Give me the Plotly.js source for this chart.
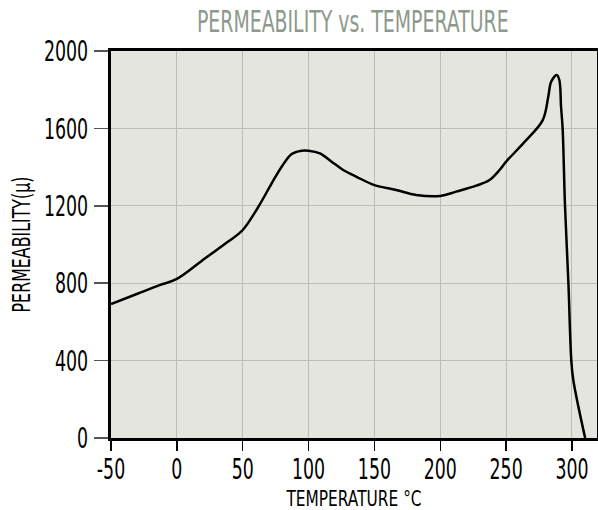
<!DOCTYPE html>
<html>
<head>
<meta charset="utf-8">
<script src="https://cdn.plot.ly/plotly-3.0.1.min.js"></script>
<style>
html,body{margin:0;padding:0;background:#fff;}
#chart{width:598px;height:510px;}
</style>
</head>
<body>
<div id="chart"></div>
<script>
const temperature = [-50, -29, -12.6, 0, 21.5, 39, 50, 61.9, 72, 79.6, 87.2, 94.8, 100, 108.6, 117.5, 126.3, 136.4, 150, 166.5, 181.7, 200, 212, 227.3, 237.4, 245, 250, 264, 277.8, 282, 284.2, 288.4, 290.4, 291.7, 292.9, 294.7, 297.3, 299.5, 301, 310];
const permeability = [692, 748, 791, 822, 929, 1015, 1075, 1195, 1316, 1402, 1468, 1485, 1485, 1471, 1428, 1385, 1350, 1307, 1282, 1256, 1251, 1273, 1304, 1333, 1385, 1428, 1530, 1643, 1764, 1841, 1876, 1850, 1712, 1600, 1200, 800, 400, 300, 0];
const xTicks = [-50, 0, 50, 100, 150, 200, 250, 300];
const yTicks = [0, 400, 800, 1200, 1600, 2000];

const FONT = '"DejaVu Sans", sans-serif';

// narrow the glyphs horizontally (the original uses a condensed face), optionally nudge
function condense(sel, s, dx, dy) {
  document.querySelectorAll(sel).forEach(el => {
    const x = +el.getAttribute('x') || 0, y = +el.getAttribute('y') || 0;
    const t = el.getAttribute('transform') || '';
    el.setAttribute('transform', `translate(${dx || 0},${dy || 0}) ${t} translate(${x},${y}) scale(${s},1) translate(${-x},${-y})`);
  });
}

Plotly.newPlot('chart', [{
  x: temperature,
  y: permeability,
  type: 'scatter',
  mode: 'lines',
  line: {color: '#000', width: 2.5, shape: 'spline', smoothing: 1},
  hoverinfo: 'skip'
}], {
  width: 598, height: 510,
  margin: {l: 111, r: 1, t: 51, b: 72},
  paper_bgcolor: '#fff',
  plot_bgcolor: '#e5e5e0',
  showlegend: false,
  title: {text: 'PERMEABILITY vs. TEMPERATURE', font: {family: FONT, size: 30, color: '#8c998c'}, x: 0.59, xanchor: 'center', y: 0.978, yanchor: 'top'},
  xaxis: {
    range: [-50, 319], tickvals: xTicks, ticktext: xTicks.map(String),
    showgrid: true, gridcolor: '#bcbcb8', gridwidth: 1,
    showline: true, linecolor: '#000', linewidth: 3, mirror: true,
    ticks: 'outside', ticklen: 10, tickcolor: '#000', tickwidth: 1.5,
    zeroline: false, ticklabeloverflow: 'allow',
    tickfont: {family: FONT, size: 28, color: '#000'},
    title: {text: 'TEMPERATURE °C', font: {family: FONT, size: 22, color: '#000'}, standoff: 4}
  },
  yaxis: {
    range: [0, 2000], tickvals: yTicks, ticktext: yTicks.map(String),
    showgrid: true, gridcolor: '#bcbcb8', gridwidth: 1,
    showline: true, linecolor: '#000', linewidth: 3, mirror: true,
    ticks: 'outside', ticklen: 14, tickcolor: '#555', tickwidth: 1.5,
    zeroline: false, ticklabeloverflow: 'allow',
    tickfont: {family: FONT, size: 29, color: '#000'},
    title: {text: 'PERMEABILITY(µ)', font: {family: FONT, size: 24, color: '#000'}, standoff: 6}
  }
}, {displayModeBar: false, staticPlot: true}).then(() => {
  condense('#chart .xtick text', 0.62, 0, -6);
  condense('#chart .ytick text', 0.6, 0, 0);
  condense('#chart .gtitle', 0.63, 0, 0);
  condense('#chart .xtitle', 0.7, 0, 1);
  condense('#chart .ytitle', 0.66, 8, 0);
});
</script>
</body>
</html>
